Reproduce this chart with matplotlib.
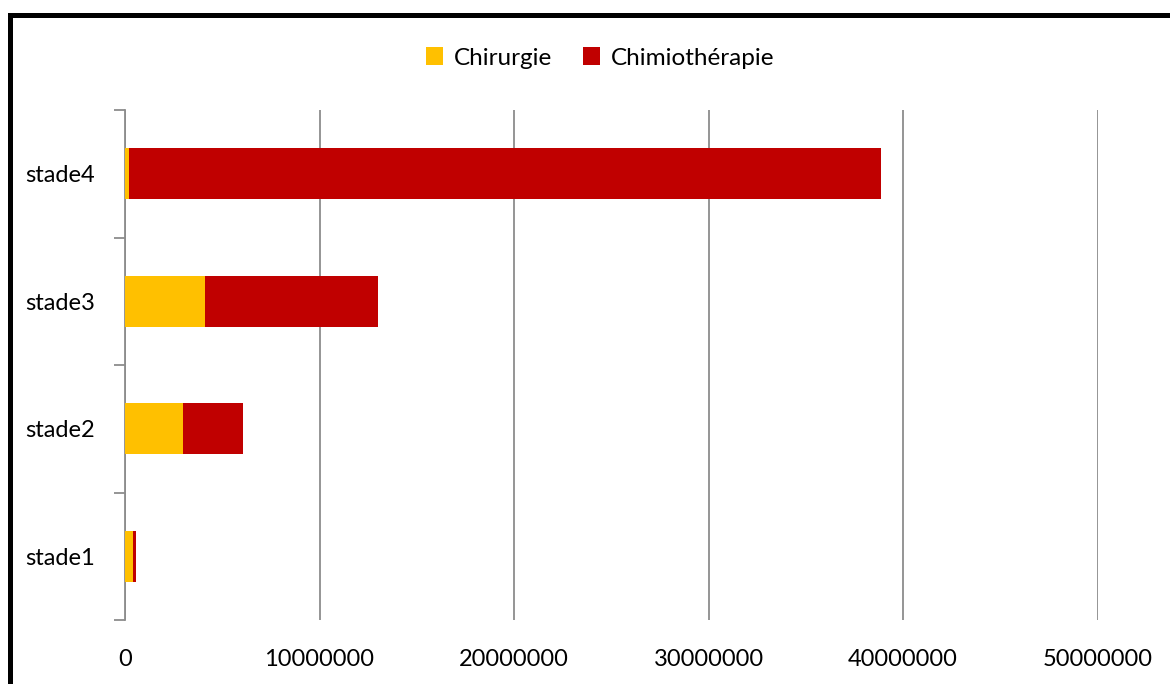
import matplotlib
matplotlib.use('Agg')
import matplotlib.pyplot as plt
from matplotlib.patches import Rectangle
import numpy as np

plt.rcParams['font.family'] = ['Lato', 'DejaVu Sans']

stades = ["stade1", "stade2", "stade3", "stade4"]
chirurgie = [410000, 2980000, 4090000, 230000]
chimiotherapie = [140000, 3090000, 8900000, 38640000]
x_ticks = [0, 10000000, 20000000, 30000000, 40000000, 50000000]

W, H = 1170, 684
fig = plt.figure(figsize=(W / 100, H / 100), dpi=100)
ax = fig.add_axes([125 / W, 1 - 620 / H, (1097.5 - 125) / W, (620 - 110) / H])

y = np.arange(len(stades))
ax.barh(y, chirurgie, height=0.4, color="#FFC000", label="Chirurgie", zorder=3)
ax.barh(y, chimiotherapie, height=0.4, left=chirurgie, color="#C00000",
        label="Chimiothérapie", zorder=3)

ax.set_xlim(0, 50000000)
ax.set_ylim(-0.5, len(stades) - 0.5)
ax.set_xticks(x_ticks)
ax.set_xticklabels([str(v) for v in x_ticks], fontsize=17)
ax.grid(axis="x", color="#8c8c8c", linewidth=1.3, zorder=0)

# category labels between tick marks at the boundaries
ax.set_yticks(np.arange(-0.5, len(stades), 1.0))
ax.set_yticklabels([])
ax.set_yticks(y, minor=True)
ax.set_yticklabels(stades, minor=True, fontsize=17)
ax.tick_params(axis="y", which="major", length=8, color="#8c8c8c", width=1.3)
ax.tick_params(axis="y", which="minor", length=0, pad=21.5)
ax.tick_params(axis="x", length=0, pad=21)

for s in ["top", "right", "bottom"]:
    ax.spines[s].set_visible(False)
ax.spines["left"].set_color("#8c8c8c")
ax.spines["left"].set_linewidth(1.3)

fig.legend(loc="center", bbox_to_anchor=(0.513, 1 - 58 / H), ncol=2, frameon=False,
           fontsize=17.5, handlelength=0.7, handleheight=0.7, handletextpad=0.45,
           columnspacing=1.3)

# black frame around the chart area, running off the right and bottom edges
fig.patches.append(Rectangle((10 / W, -0.1), 1.2, 1 - 15.5 / H + 0.1,
                             transform=fig.transFigure, fill=False,
                             edgecolor="black", linewidth=3.6, zorder=10))

plt.savefig("out.png", dpi=100)
plt.close()
